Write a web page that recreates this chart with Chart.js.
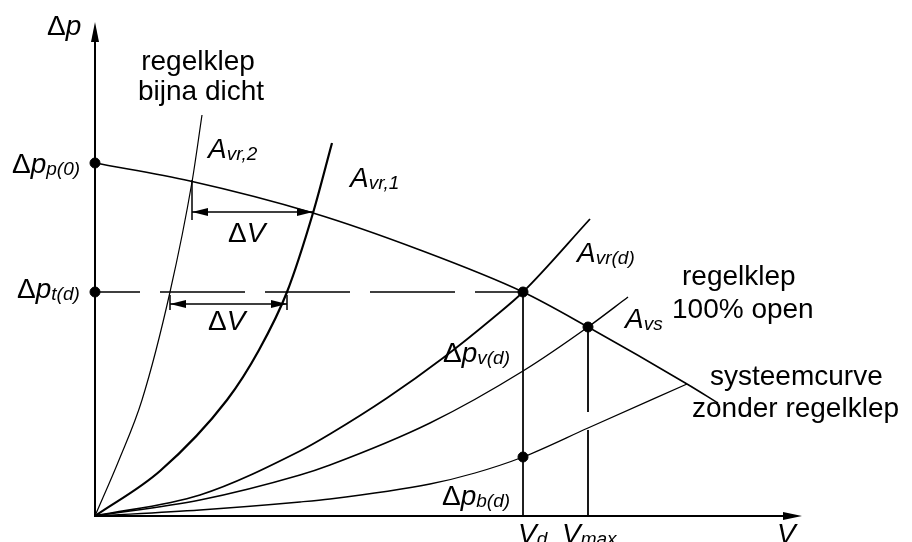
<!DOCTYPE html>
<html><head><meta charset="utf-8">
<script src="https://cdn.jsdelivr.net/npm/chart.js@4/dist/chart.umd.min.js"></script>
<style>html,body{margin:0;padding:0;background:#fff}canvas{display:block}</style>
</head><body>
<canvas id="c" width="912" height="542"></canvas>
<script>
// ---- values (V = flow, dP = pressure difference, drawing units) ----
const pumpV   = [0, 95, 218, 325, 428, 493, 592, 623];
const pumpP   = [353, 335, 303, 266, 224, 189, 132, 113];
const avr2V   = [0, 24, 47, 75, 97, 107];
const avr2P   = [0, 56, 116, 224, 334, 401];
const avr1V   = [0, 65, 132, 164, 192, 218, 237];
const avr1P   = [0, 45, 116, 166, 224, 303, 373];
const avrdV   = [0, 105, 205, 235, 292, 348, 398, 428, 495];
const avrdP   = [0, 21, 65, 82, 118, 158, 198, 224, 297];
const avsV    = [0, 105, 205, 235, 335, 428, 493, 533];
const avsP    = [0, 16, 41, 51, 93, 145, 189, 219];
const sysV    = [0, 105, 205, 235, 335, 380, 428, 493, 592];
const sysP    = [0, 6, 14, 17, 32, 43, 59, 88, 132];
// key points
const Vd = 428, Vmax = 493;
const dPp0 = 353, dPtd = 224, dPvs = 189, dPbd = 59;
const dV1 = [97, 218], dV1P = 304;     // upper ΔV (along pump curve)
const dV2 = [75, 192], dV2P = 212;     // lower ΔV (at Δp_t(d))
const VmaxGap = [86, 104];             // break in the V_max line
const axisVmax = 707, axisPmax = 494;

const zip = (a, b) => a.map((v, i) => ({x: v, y: b[i]}));
const curve = (V, P, w) => ({data: zip(V, P), showLine: true, borderColor: '#000', borderWidth: w,
  pointRadius: 0, cubicInterpolationMode: 'monotone', fill: false, clip: false});
const seg = (pts, w, dash, off) => ({data: pts, showLine: true, borderColor: '#000', borderWidth: w,
  pointRadius: 0, borderDash: dash || [], borderDashOffset: off || 0, fill: false, clip: false});

const F = 'Liberation Sans, Arial, sans-serif';
const big = '28px ' + F, bigI = 'italic 28px ' + F, sub = 'italic 19px ' + F;
const labels = [
  {v: -48, p: 481, parts: [['Δ', big], ['p', bigI]]},
  {v: 103, p: 446, align: 'center', parts: [['regelklep', big]]},
  {v: 106, p: 416, align: 'center', parts: [['bijna dicht', big]]},
  {v: 113, p: 358, parts: [['A', bigI], ['vr,2', sub, 2]]},
  {v: -83, p: 343, parts: [['Δ', big], ['p', bigI], ['p(0)', sub, 2]]},
  {v: -78, p: 218, parts: [['Δ', big], ['p', bigI], ['t(d)', sub, 2]]},
  {v: 255, p: 329, parts: [['A', bigI], ['vr,1', sub, 2]]},
  {v: 133, p: 274, parts: [['Δ', big], ['V', bigI]]},
  {v: 113, p: 186, parts: [['Δ', big], ['V', bigI]]},
  {v: 482, p: 254, parts: [['A', bigI], ['vr(d)', sub, 2]]},
  {v: 587, p: 231, parts: [['regelklep', big]]},
  {v: 577, p: 198, parts: [['100% open', big]]},
  {v: 530, p: 188, parts: [['A', bigI], ['vs', sub, 2]]},
  {v: 615, p: 131, parts: [['systeemcurve', big]]},
  {v: 597, p: 99,  parts: [['zonder regelklep', big]]},
  {v: 348, p: 154, parts: [['Δ', big], ['p', bigI], ['v(d)', sub, 2]]},
  {v: 347, p: 11,  parts: [['Δ', big], ['p', bigI], ['b(d)', sub, 2]]},
  {v: 423, p: -27, parts: [['V', bigI], ['d', sub, 2]]},
  {v: 467, p: -27, parts: [['V', bigI], ['max', sub, 2]]},
  {v: 682, p: -27, parts: [['V', bigI]]}
];

function rich(ctx, x0, y0, parts, align) {
  let w = 0;
  parts.forEach(p => { ctx.font = p[1]; w += ctx.measureText(p[0]).width; });
  let x = align === 'center' ? x0 - w / 2 : x0;
  parts.forEach(p => { ctx.font = p[1]; ctx.fillText(p[0], x, y0 + (p[2] || 0)); x += ctx.measureText(p[0]).width; });
}
function head(ctx, tx, ty, dx, dy, len, hw) {
  const px = -dy, py = dx;
  ctx.beginPath();
  ctx.moveTo(tx, ty);
  ctx.lineTo(tx - dx * len + px * hw, ty - dy * len + py * hw);
  ctx.lineTo(tx - dx * len - px * hw, ty - dy * len - py * hw);
  ctx.closePath(); ctx.fill();
}

const annot = {
  id: 'annot',
  afterDraw(chart) {
    const {ctx, scales: {x, y}} = chart;
    const X = v => x.getPixelForValue(v), Y = p => y.getPixelForValue(p);
    ctx.save();
    ctx.strokeStyle = '#000'; ctx.fillStyle = '#000'; ctx.lineWidth = 2;
    // axes with arrows
    ctx.beginPath();
    ctx.moveTo(X(0), Y(axisPmax) + 10); ctx.lineTo(X(0), Y(0)); ctx.lineTo(X(axisVmax) - 10, Y(0));
    ctx.stroke();
    head(ctx, X(0), Y(axisPmax), 0, -1, 20, 4);
    head(ctx, X(axisVmax), Y(0), 1, 0, 19, 4);
    // ΔV dimension arrows
    ctx.lineWidth = 1.5;
    ctx.beginPath();
    ctx.moveTo(X(dV1[0]), Y(dV1P)); ctx.lineTo(X(dV1[1]), Y(dV1P));
    ctx.moveTo(X(dV1[0]), Y(dV1P + 32)); ctx.lineTo(X(dV1[0]), Y(dV1P - 8));
    ctx.moveTo(X(dV2[0]), Y(dV2P)); ctx.lineTo(X(dV2[1]), Y(dV2P));
    ctx.moveTo(X(dV2[0]), Y(dV2P + 9)); ctx.lineTo(X(dV2[0]), Y(dV2P - 6));
    ctx.moveTo(X(dV2[1]), Y(dV2P + 9)); ctx.lineTo(X(dV2[1]), Y(dV2P - 6));
    ctx.stroke();
    head(ctx, X(dV1[0]), Y(dV1P), -1, 0, 16, 4);
    head(ctx, X(dV1[1]), Y(dV1P), 1, 0, 16, 4);
    head(ctx, X(dV2[0]), Y(dV2P), -1, 0, 16, 4);
    head(ctx, X(dV2[1]), Y(dV2P), 1, 0, 16, 4);
    // labels
    ctx.textBaseline = 'alphabetic'; ctx.textAlign = 'left';
    labels.forEach(l => rich(ctx, X(l.v), Y(l.p), l.parts, l.align));
    ctx.restore();
  }
};

new Chart(document.getElementById('c'), {
  type: 'scatter',
  data: {datasets: [
    curve(pumpV, pumpP, 1.6),
    curve(avr2V, avr2P, 1.2),
    curve(avr1V, avr1P, 2.2),
    curve(avrdV, avrdP, 1.8),
    curve(avsV, avsP, 1.4),
    curve(sysV, sysP, 1.3),
    seg([{x: 0, y: dPtd}, {x: Vd, y: dPtd}], 1.5, [85, 20], 40),
    seg([{x: Vd, y: dPtd}, {x: Vd, y: 0}], 1),
    seg([{x: Vmax, y: dPvs}, {x: Vmax, y: VmaxGap[1]}], 1.8),
    seg([{x: Vmax, y: VmaxGap[0]}, {x: Vmax, y: 0}], 1.8),
    {data: [{x: 0, y: dPp0}, {x: 0, y: dPtd}, {x: Vd, y: dPtd}, {x: Vmax, y: dPvs}, {x: Vd, y: dPbd}],
     showLine: false, pointRadius: 5, pointBackgroundColor: '#000', pointBorderColor: '#000', clip: false}
  ]},
  options: {
    responsive: false, devicePixelRatio: 1, animation: false,
    layout: {padding: {left: 95, right: 110, top: 22, bottom: 26}},
    plugins: {legend: {display: false}, tooltip: {enabled: false}},
    scales: {
      x: {type: 'linear', min: 0, max: axisVmax, display: false},
      y: {type: 'linear', min: 0, max: axisPmax, display: false}
    }
  },
  plugins: [annot]
});
</script>
</body></html>
